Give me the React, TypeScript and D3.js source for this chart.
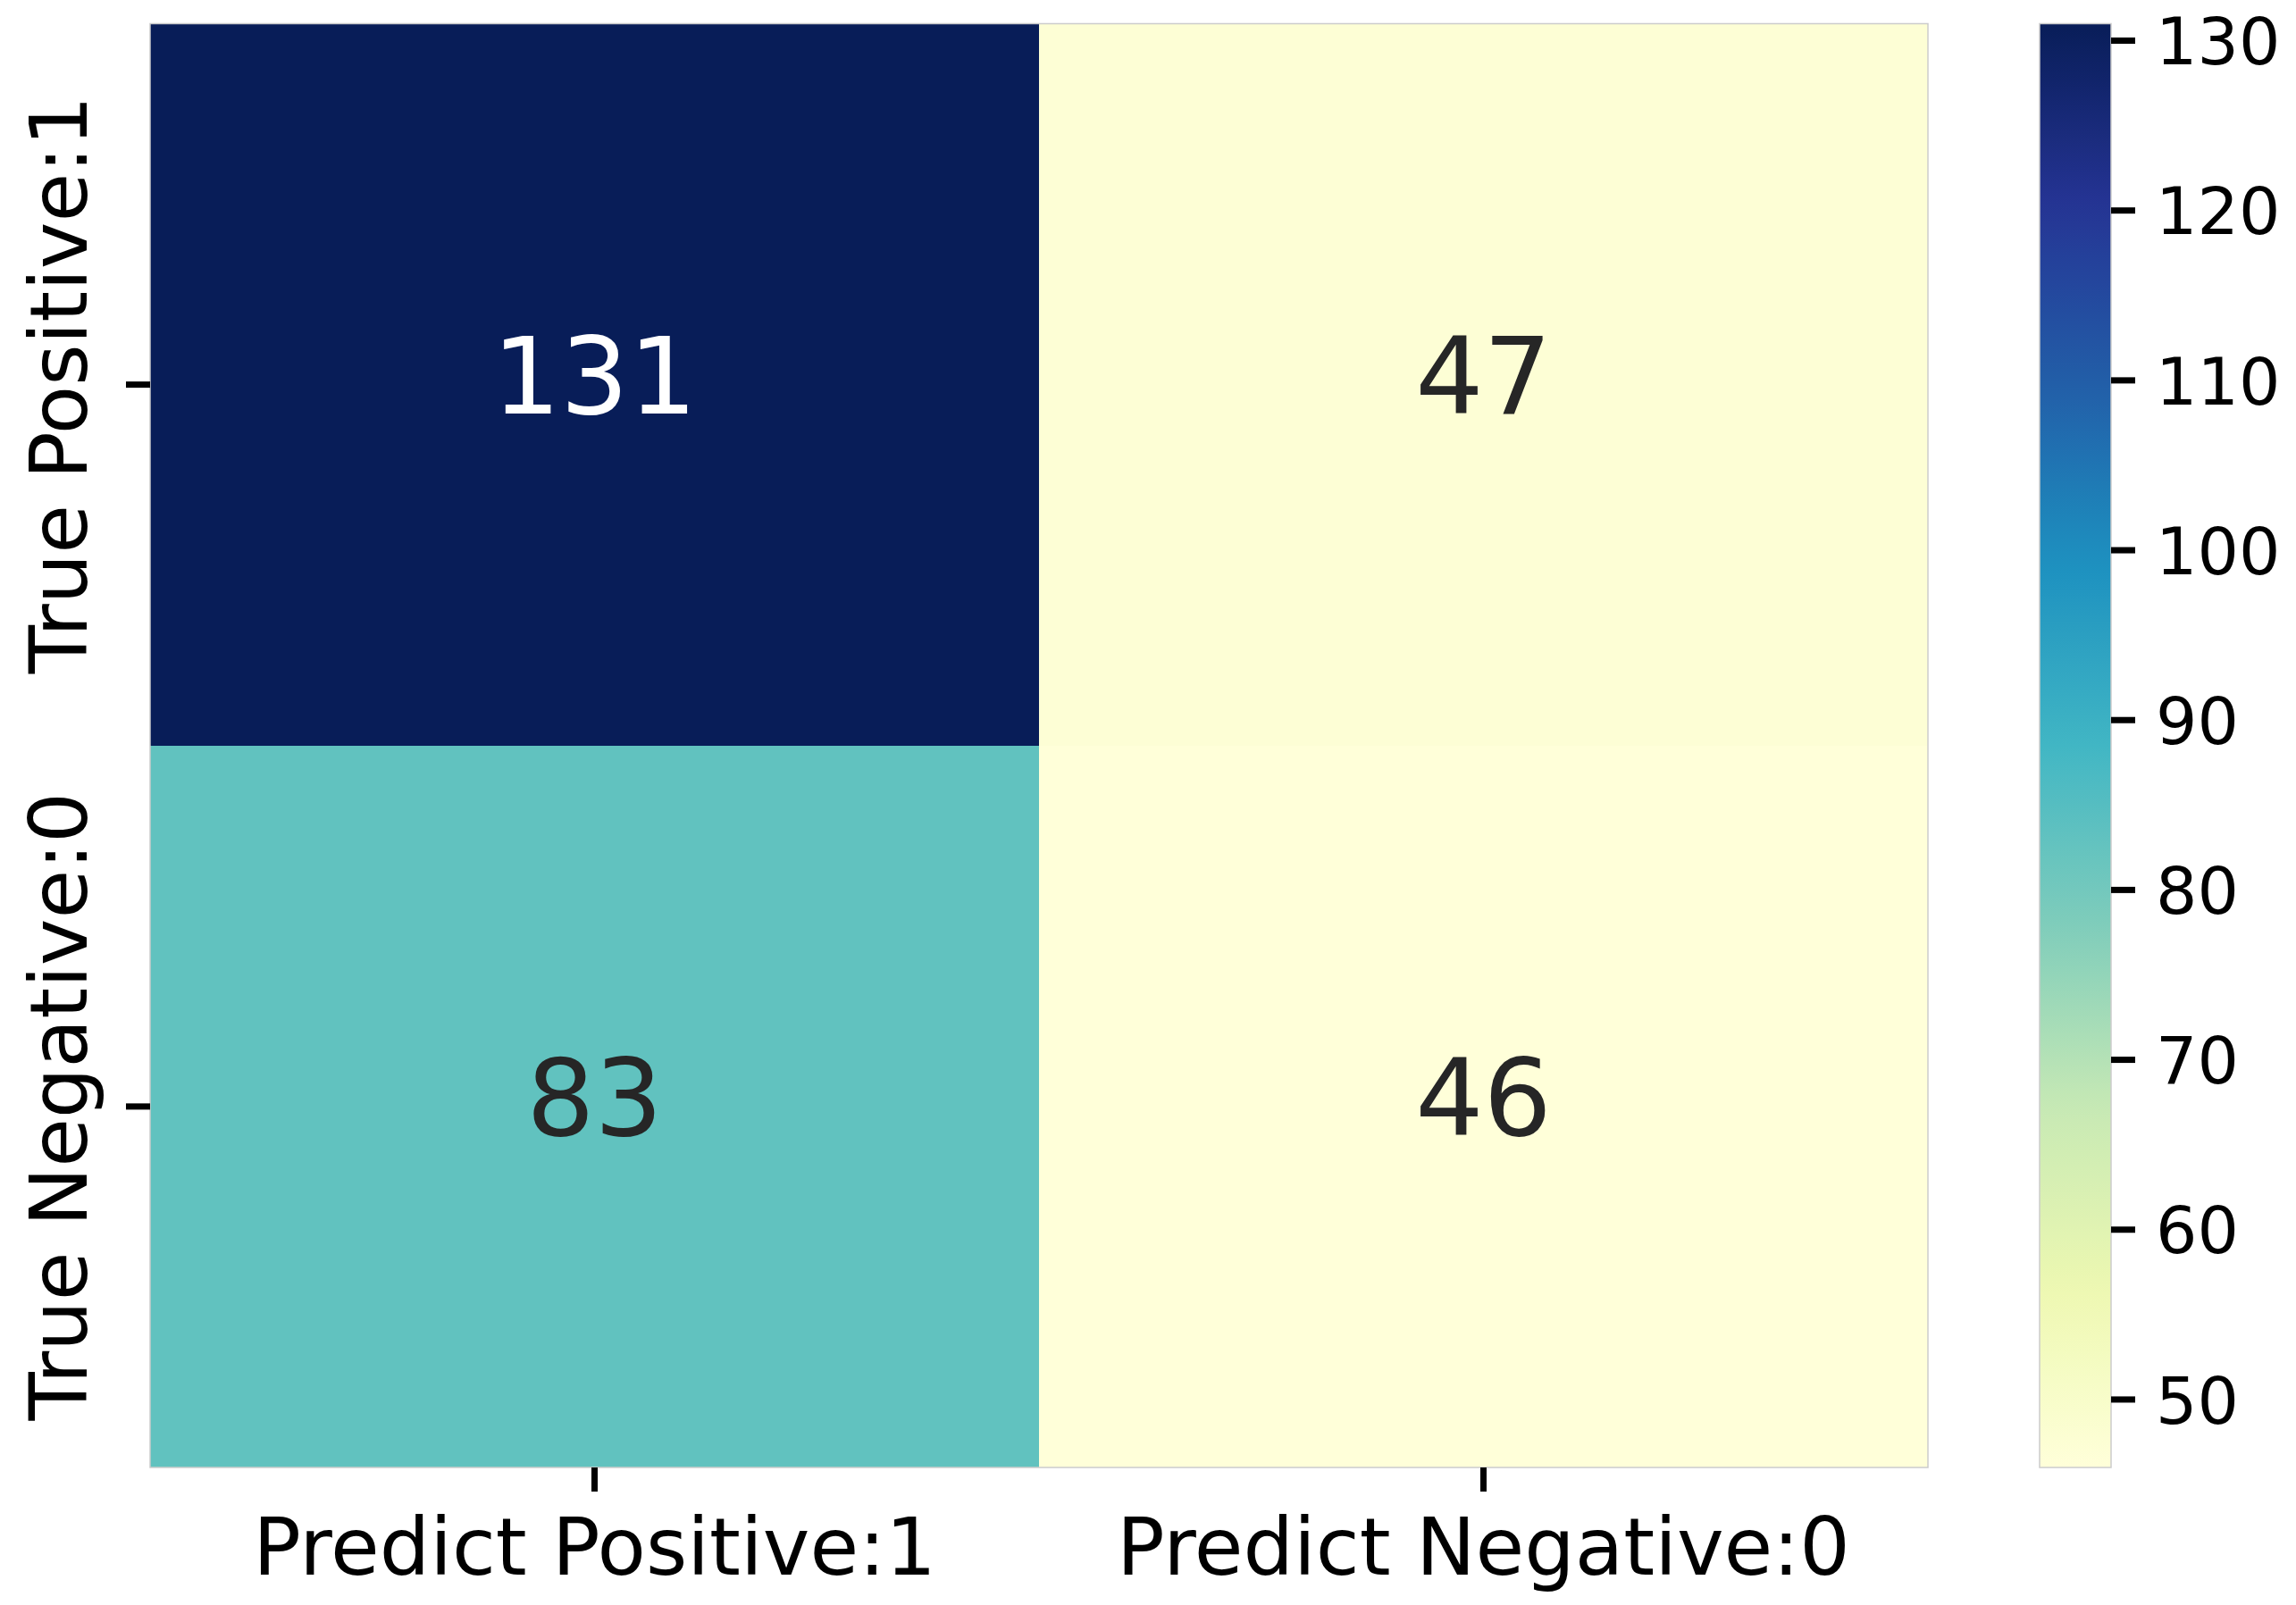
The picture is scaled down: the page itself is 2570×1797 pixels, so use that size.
import React from "react";
import * as d3 from "d3";

// confusion matrix values
const rowLabels = ["True Positive:1", "True Negative:0"];
const colLabels = ["Predict Positive:1", "Predict Negative:0"];
const values = [
  [131, 47],
  [83, 46],
];
const cbarTicks = [50, 60, 70, 80, 90, 100, 110, 120, 130];

// matplotlib YlGnBu (ColorBrewer 9 class, linear segments)
const ylgnbu = ["#ffffd9", "#edf8b1", "#c7e9b4", "#7fcdbb", "#41b6c4", "#1d91c0", "#225ea8", "#253494", "#081d58"];

const W = 2570;
const H = 1797;
const margin = { left: 168, top: 26.5, right: 2158, bottom: 1643 };
const cbar = { x0: 2283, x1: 2363 };

const App = () => {
  const flat = values.flat();
  const vmin = d3.min(flat) as number;
  const vmax = d3.max(flat) as number;

  const cmapT = d3
    .scaleLinear<string>()
    .domain(d3.range(ylgnbu.length).map((i) => i / (ylgnbu.length - 1)))
    .range(ylgnbu)
    .interpolate(d3.interpolateRgb);
  const color = (v: number) => cmapT((v - vmin) / (vmax - vmin));

  const x = d3.scaleBand<string>().domain(colLabels).range([margin.left, margin.right]);
  const y = d3.scaleBand<string>().domain(rowLabels).range([margin.top, margin.bottom]);
  const cy = d3.scaleLinear().domain([vmin, vmax]).range([margin.bottom, margin.top]);

  const annoSize = 120;
  const tickSize = 89;
  const cbarFont = 73;
  const tickLen = 27;
  const tickW = 7;

  const stops = d3.range(0, 1.0001, 0.02);

  return (
    <div style={{ position: "absolute", left: 0, top: 0, width: W, height: H, background: "#fff" }}>
      <svg width={W} height={H} style={{ display: "block", fontFamily: "DejaVu Sans" }}>
        <defs>
          <linearGradient id="cbarGrad" x1="0" y1="1" x2="0" y2="0">
            {stops.map((t) => (
              <stop key={t} offset={t} stopColor={cmapT(t)} />
            ))}
          </linearGradient>
        </defs>

        {/* cells */}
        {rowLabels.map((r, i) =>
          colLabels.map((c, j) => (
            <rect
              key={`${i}-${j}`}
              x={x(c)}
              y={y(r)}
              width={x.bandwidth()}
              height={y.bandwidth()}
              fill={color(values[i][j])}
              shapeRendering="crispEdges"
            />
          ))
        )}
        <rect
          x={margin.left}
          y={margin.top}
          width={margin.right - margin.left}
          height={margin.bottom - margin.top}
          fill="none"
          stroke="#cccccc"
          strokeWidth={1.5}
        />

        {/* annotations */}
        {rowLabels.map((r, i) =>
          colLabels.map((c, j) => {
            const v = values[i][j];
            const t = (v - vmin) / (vmax - vmin);
            return (
              <text
                key={`a-${i}-${j}`}
                x={(x(c) as number) + x.bandwidth() / 2}
                y={(y(r) as number) + y.bandwidth() / 2 + annoSize * 0.27}
                textAnchor="middle"
                fontSize={annoSize}
                fill={t > 0.6 ? "#ffffff" : "#262626"}
              >
                {v}
              </text>
            );
          })
        )}

        {/* x axis */}
        {colLabels.map((c) => {
          const cx = (x(c) as number) + x.bandwidth() / 2;
          return (
            <g key={c}>
              <line x1={cx} x2={cx} y1={margin.bottom} y2={margin.bottom + tickLen} stroke="#000" strokeWidth={tickW} />
              <text x={cx} y={1763} textAnchor="middle" fontSize={tickSize} fill="#000">
                {c}
              </text>
            </g>
          );
        })}

        {/* y axis */}
        {rowLabels.map((r) => {
          const ry = (y(r) as number) + y.bandwidth() / 2;
          return (
            <g key={r}>
              <line x1={margin.left - tickLen} x2={margin.left} y1={ry} y2={ry} stroke="#000" strokeWidth={tickW} />
              <text transform={`translate(97,${ry}) rotate(-90)`} textAnchor="middle" fontSize={tickSize} fill="#000">
                {r}
              </text>
            </g>
          );
        })}

        {/* colorbar */}
        <rect
          x={cbar.x0}
          y={margin.top}
          width={cbar.x1 - cbar.x0}
          height={margin.bottom - margin.top}
          fill="url(#cbarGrad)"
          stroke="#cccccc"
          strokeWidth={1.5}
        />
        {cbarTicks.map((t) => (
          <g key={t}>
            <line x1={cbar.x1} x2={cbar.x1 + tickLen} y1={cy(t)} y2={cy(t)} stroke="#000" strokeWidth={tickW} />
            <text x={2413} y={cy(t) + cbarFont * 0.365} fontSize={cbarFont} fill="#000">
              {t}
            </text>
          </g>
        ))}
      </svg>
    </div>
  );
};

export default App;
